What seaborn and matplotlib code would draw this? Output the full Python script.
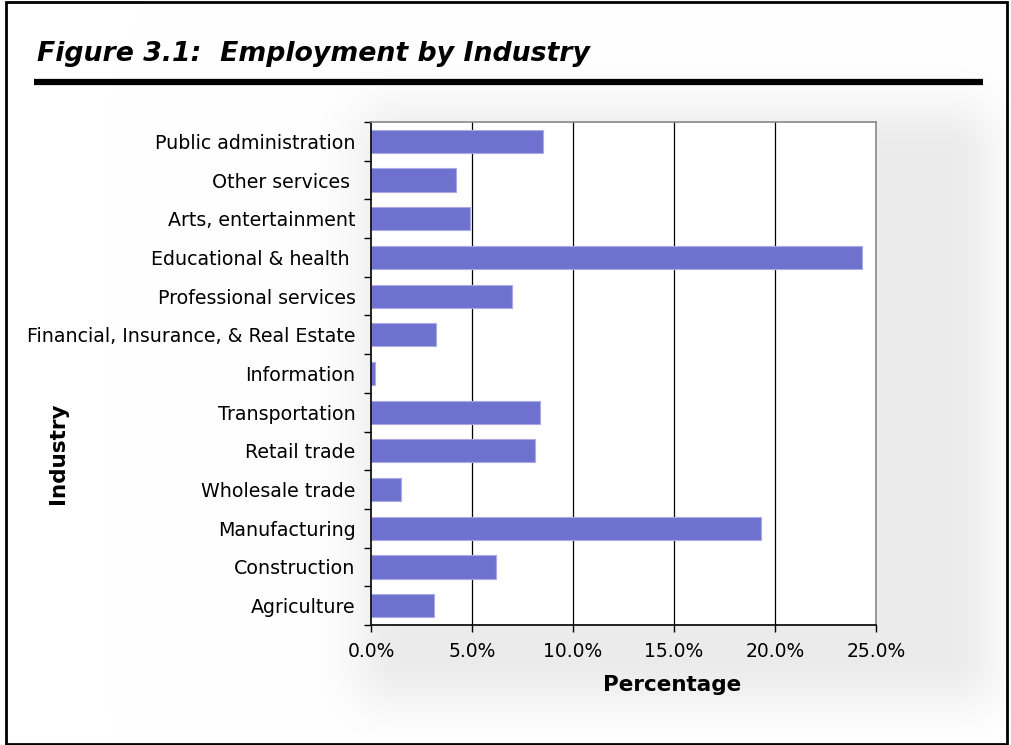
import numpy as np
import pandas as pd
import matplotlib
matplotlib.use("Agg")
import matplotlib.pyplot as plt
import matplotlib.ticker as mticker
from matplotlib.patches import Rectangle
import seaborn as sns

industries = ["Public administration", "Other services ", "Arts, entertainment",
              "Educational & health ", "Professional services",
              "Financial, Insurance, & Real Estate", "Information", "Transportation",
              "Retail trade", "Wholesale trade", "Manufacturing", "Construction",
              "Agriculture"]
percent = [8.5, 4.2, 4.9, 24.3, 7.0, 3.2, 0.2, 8.35, 8.1, 1.5, 19.3, 6.2, 3.1]
xticks = [0, 5, 10, 15, 20, 25]

df = pd.DataFrame({"Industry": industries, "Percentage": percent})

sns.set_theme(style="white")
plt.rcParams['font.family'] = ['DejaVu Sans']

W, H = 1012, 745
fig = plt.figure(figsize=(W / 100, H / 100), dpi=100)

# soft shadow background
bg = fig.add_axes([0, 0, 1, 1], zorder=0)
bg.set_xlim(0, W); bg.set_ylim(H, 0); bg.axis("off")
xx, yy = np.meshgrid(np.arange(W), np.arange(H))
x0s, x1s, y0s, y1s = 400, 950, 150, 660
dx = np.maximum(np.maximum(x0s - xx, xx - x1s), 0)
dy = np.maximum(np.maximum(y0s - yy, yy - y1s), 0)
d = np.sqrt(dx ** 2 + dy ** 2)
shade = 0.075 * np.exp(-(d / 50.0) ** 2)
img = np.ones((H, W, 3)) * (1 - shade)[..., None]
bg.imshow(img, extent=(0, W, H, 0), aspect="auto", interpolation="bilinear")

# border
fig.patches.append(Rectangle((6 / W, 1 / H), (1007 - 6) / W, (743 - 1) / H,
                             transform=fig.transFigure, fill=False,
                             edgecolor="black", linewidth=2, zorder=5))
# title and rule
fig.text(37 / W, 1 - 61 / H, "Figure 3.1:  Employment by Industry",
         fontsize=19.3, fontweight="bold", fontstyle="italic", ha="left",
         va="baseline", color="black")
fig.add_artist(plt.Line2D([34 / W, 983 / W], [1 - 82 / H, 1 - 82 / H],
                          transform=fig.transFigure, color="black", linewidth=4.5,
                          solid_capstyle="butt"))

left, right, top, bottom = 371, 876, 122, 625
ax = fig.add_axes([left / W, 1 - bottom / H, (right - left) / W, (bottom - top) / H], zorder=2)
ax.set_facecolor("white")

sns.barplot(data=df, x="Percentage", y="Industry", orient="h", ax=ax,
            color="#6f71cf", saturation=1, width=0.6,
            edgecolor="#a9aaea", linewidth=0.8)

ax.set_xlim(0, 25)
ax.set_ylim(len(industries) - 0.5, -0.5)
ax.set_xticks(xticks)
ax.xaxis.set_major_formatter(mticker.FuncFormatter(lambda v, p: f"{v:.1f}%"))
ax.set_axisbelow(True)
for v in xticks[1:-1]:
    ax.axvline(v, color="black", linewidth=0.9, zorder=0)

ax.set_yticks(np.arange(-0.5, len(industries), 1), minor=True)
ax.tick_params(axis="y", which="major", length=0, labelsize=13.7, pad=11, colors="black")
ax.tick_params(axis="y", which="minor", length=5, width=1, color="black", left=True)
ax.tick_params(axis="x", which="major", length=5, width=1, color="black", bottom=True,
               labelsize=13.5, pad=7, labelcolor="black")

for s in ["left", "bottom"]:
    ax.spines[s].set_color("black"); ax.spines[s].set_linewidth(1.2)
for s in ["top", "right"]:
    ax.spines[s].set_color("#888888"); ax.spines[s].set_linewidth(1.2)

ax.set_xlabel("Percentage", fontsize=15.5, fontweight="bold", color="black")
ax.xaxis.set_label_coords((672 - left) / (right - left), -(685 - bottom) / (bottom - top))
ax.xaxis.label.set_va("center")
ax.set_ylabel("")
fig.text(58 / W, 1 - 453 / H, "Industry", rotation=90, fontsize=15.5,
         fontweight="bold", ha="center", va="center", color="black")

fig.savefig("out.png", dpi=100)
